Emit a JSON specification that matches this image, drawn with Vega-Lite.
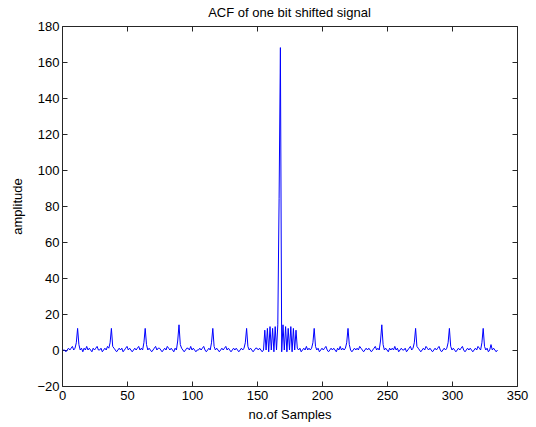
{
  "$schema": "https://vega.github.io/schema/vega-lite/v6.json",
  "width": 455,
  "height": 360,
  "autosize": {"type": "none"},
  "padding": {"left": 62, "top": 26, "right": 19, "bottom": 41},
  "background": "white",
  "config": {
    "view": {"stroke": "#262626", "strokeWidth": 1},
    "font": "Liberation Sans",
    "axis": {"grid": false, "domain": false, "tickColor": "#262626", "labelColor": "#000000", "titleColor": "#000000", "labelFont": "Liberation Sans", "titleFont": "Liberation Sans", "labelFontSize": 13, "titleFontSize": 13, "titleFontWeight": "normal", "tickSize": -5, "labelPadding": 8}
  },
  "title": {"text": "ACF of one bit shifted signal", "fontSize": 13, "fontWeight": "normal", "font": "Liberation Sans", "color": "#000000", "offset": 0, "anchor": "middle"},
  "data": {"values": [
    {"x":1,"y":0},{"x":2,"y":0},{"x":3,"y":-1},{"x":4,"y":0},{"x":5,"y":1},{"x":6,"y":0},{"x":7,"y":1},{"x":8,"y":2},{"x":9,"y":0},{"x":10,"y":1},{"x":11,"y":4},{"x":12,"y":12},{"x":13,"y":3},
    {"x":14,"y":0},{"x":15,"y":1},{"x":16,"y":-1},{"x":17,"y":1},{"x":18,"y":0},{"x":19,"y":2},{"x":20,"y":0},{"x":21,"y":1},{"x":22,"y":0},{"x":23,"y":-1},{"x":24,"y":1},{"x":25,"y":0},{"x":26,"y":1},{"x":27,"y":2},{"x":28,"y":0},{"x":29,"y":0},{"x":30,"y":1},{"x":31,"y":-1},{"x":32,"y":0},{"x":33,"y":1},{"x":34,"y":0},{"x":35,"y":2},{"x":36,"y":1},{"x":37,"y":4},{"x":38,"y":12},{"x":39,"y":2},
    {"x":40,"y":1},{"x":41,"y":0},{"x":42,"y":-1},{"x":43,"y":0},{"x":44,"y":1},{"x":45,"y":0},{"x":46,"y":1},{"x":47,"y":-1},{"x":48,"y":0},{"x":49,"y":1},{"x":50,"y":2},{"x":51,"y":0},{"x":52,"y":1},{"x":53,"y":0},{"x":54,"y":-1},{"x":55,"y":0},{"x":56,"y":1},{"x":57,"y":0},{"x":58,"y":1},{"x":59,"y":2},{"x":60,"y":0},{"x":61,"y":1},{"x":62,"y":0},{"x":63,"y":4},{"x":64,"y":12},{"x":65,"y":3},
    {"x":66,"y":0},{"x":67,"y":1},{"x":68,"y":0},{"x":69,"y":-1},{"x":70,"y":0},{"x":71,"y":1},{"x":72,"y":2},{"x":73,"y":0},{"x":74,"y":1},{"x":75,"y":1},{"x":76,"y":0},{"x":77,"y":-1},{"x":78,"y":0},{"x":79,"y":1},{"x":80,"y":0},{"x":81,"y":2},{"x":82,"y":1},{"x":83,"y":0},{"x":84,"y":1},{"x":85,"y":0},{"x":86,"y":-1},{"x":87,"y":1},{"x":88,"y":0},{"x":89,"y":5},{"x":90,"y":14},{"x":91,"y":3},
    {"x":92,"y":1},{"x":93,"y":0},{"x":94,"y":-1},{"x":95,"y":0},{"x":96,"y":1},{"x":97,"y":1},{"x":98,"y":0},{"x":99,"y":2},{"x":100,"y":0},{"x":101,"y":1},{"x":102,"y":0},{"x":103,"y":-1},{"x":104,"y":0},{"x":105,"y":0},{"x":106,"y":1},{"x":107,"y":0},{"x":108,"y":1},{"x":109,"y":2},{"x":110,"y":0},{"x":111,"y":-1},{"x":112,"y":0},{"x":113,"y":1},{"x":114,"y":0},{"x":115,"y":4},{"x":116,"y":12},{"x":117,"y":2},
    {"x":118,"y":0},{"x":119,"y":1},{"x":120,"y":0},{"x":121,"y":-1},{"x":122,"y":0},{"x":123,"y":1},{"x":124,"y":0},{"x":125,"y":1},{"x":126,"y":2},{"x":127,"y":0},{"x":128,"y":1},{"x":129,"y":0},{"x":130,"y":-1},{"x":131,"y":0},{"x":132,"y":1},{"x":133,"y":0},{"x":134,"y":1},{"x":135,"y":0},{"x":136,"y":-1},{"x":137,"y":0},{"x":138,"y":1},{"x":139,"y":0},{"x":140,"y":1},{"x":141,"y":4},{"x":142,"y":12},{"x":143,"y":2},
    {"x":144,"y":0},{"x":145,"y":1},{"x":146,"y":0},{"x":147,"y":-1},{"x":148,"y":0},{"x":149,"y":1},{"x":150,"y":1},{"x":151,"y":0},{"x":152,"y":1},{"x":153,"y":0},{"x":154,"y":-1},{"x":155,"y":0},
    {"x":156,"y":11},{"x":157,"y":0},{"x":158,"y":12},{"x":159,"y":-1},{"x":160,"y":13},{"x":161,"y":0},{"x":162,"y":12},{"x":163,"y":-1},{"x":164,"y":13},{"x":165,"y":0},{"x":166,"y":14},{"x":167,"y":84},{"x":168,"y":168},{"x":169,"y":-1},{"x":170,"y":14},{"x":171,"y":0},{"x":172,"y":13},{"x":173,"y":-1},{"x":174,"y":12},{"x":175,"y":0},{"x":176,"y":13},{"x":177,"y":-1},{"x":178,"y":12},{"x":179,"y":0},{"x":180,"y":11},{"x":181,"y":1},
    {"x":182,"y":0},{"x":183,"y":1},{"x":184,"y":-1},{"x":185,"y":0},{"x":186,"y":1},{"x":187,"y":0},{"x":188,"y":2},{"x":189,"y":0},{"x":190,"y":1},{"x":191,"y":0},{"x":192,"y":1},{"x":193,"y":4},{"x":194,"y":12},{"x":195,"y":2},
    {"x":196,"y":0},{"x":197,"y":1},{"x":198,"y":-1},{"x":199,"y":0},{"x":200,"y":1},{"x":201,"y":0},{"x":202,"y":1},{"x":203,"y":2},{"x":204,"y":0},{"x":205,"y":-1},{"x":206,"y":0},{"x":207,"y":1},{"x":208,"y":0},{"x":209,"y":1},{"x":210,"y":0},{"x":211,"y":-1},{"x":212,"y":1},{"x":213,"y":0},{"x":214,"y":2},{"x":215,"y":0},{"x":216,"y":1},{"x":217,"y":0},{"x":218,"y":1},{"x":219,"y":4},{"x":220,"y":12},{"x":221,"y":3},
    {"x":222,"y":0},{"x":223,"y":-1},{"x":224,"y":0},{"x":225,"y":1},{"x":226,"y":0},{"x":227,"y":1},{"x":228,"y":0},{"x":229,"y":2},{"x":230,"y":1},{"x":231,"y":0},{"x":232,"y":-1},{"x":233,"y":0},{"x":234,"y":1},{"x":235,"y":0},{"x":236,"y":1},{"x":237,"y":0},{"x":238,"y":-1},{"x":239,"y":0},{"x":240,"y":1},{"x":241,"y":2},{"x":242,"y":0},{"x":243,"y":1},{"x":244,"y":0},{"x":245,"y":5},{"x":246,"y":14},{"x":247,"y":3},
    {"x":248,"y":0},{"x":249,"y":1},{"x":250,"y":0},{"x":251,"y":-1},{"x":252,"y":1},{"x":253,"y":0},{"x":254,"y":1},{"x":255,"y":0},{"x":256,"y":2},{"x":257,"y":0},{"x":258,"y":1},{"x":259,"y":-1},{"x":260,"y":0},{"x":261,"y":1},{"x":262,"y":0},{"x":263,"y":0},{"x":264,"y":1},{"x":265,"y":-1},{"x":266,"y":0},{"x":267,"y":1},{"x":268,"y":2},{"x":269,"y":0},{"x":270,"y":1},{"x":271,"y":4},{"x":272,"y":12},{"x":273,"y":2},
    {"x":274,"y":1},{"x":275,"y":0},{"x":276,"y":-1},{"x":277,"y":0},{"x":278,"y":1},{"x":279,"y":0},{"x":280,"y":2},{"x":281,"y":1},{"x":282,"y":0},{"x":283,"y":1},{"x":284,"y":0},{"x":285,"y":-1},{"x":286,"y":0},{"x":287,"y":1},{"x":288,"y":0},{"x":289,"y":1},{"x":290,"y":2},{"x":291,"y":0},{"x":292,"y":-1},{"x":293,"y":0},{"x":294,"y":1},{"x":295,"y":0},{"x":296,"y":1},{"x":297,"y":4},{"x":298,"y":12},{"x":299,"y":2},
    {"x":300,"y":0},{"x":301,"y":1},{"x":302,"y":0},{"x":303,"y":-1},{"x":304,"y":0},{"x":305,"y":1},{"x":306,"y":0},{"x":307,"y":1},{"x":308,"y":2},{"x":309,"y":0},{"x":310,"y":-1},{"x":311,"y":0},{"x":312,"y":1},{"x":313,"y":0},{"x":314,"y":1},{"x":315,"y":0},{"x":316,"y":-1},{"x":317,"y":0},{"x":318,"y":1},{"x":319,"y":0},{"x":320,"y":2},{"x":321,"y":1},{"x":322,"y":0},{"x":323,"y":4},{"x":324,"y":12},{"x":325,"y":2},
    {"x":326,"y":0},{"x":327,"y":1},{"x":328,"y":-1},{"x":329,"y":0},{"x":330,"y":3},{"x":331,"y":0},{"x":332,"y":1},{"x":333,"y":0},{"x":334,"y":-1},{"x":335,"y":0}
  ]},
  "layer": [
    {
      "mark": {"type": "line", "color": "#0000ff", "strokeWidth": 1, "interpolate": "linear"},
      "encoding": {
        "x": {"field": "x", "type": "quantitative", "scale": {"domain": [0, 350], "nice": false, "zero": false}, "axis": {"orient": "bottom", "values": [0,50,100,150,200,250,300,350], "title": "no.of Samples", "titlePadding": 6, "labelFlush": false}},
        "y": {"field": "y", "type": "quantitative", "scale": {"domain": [-20, 180], "nice": false, "zero": false}, "axis": {"orient": "left", "values": [-20,0,20,40,60,80,100,120,140,160,180], "title": "amplitude", "titlePadding": 12, "labelFlush": false}}
      }
    },
    {
      "mark": {"type": "line", "opacity": 0},
      "encoding": {
        "x": {"field": "x", "type": "quantitative", "scale": {"domain": [0, 350], "nice": false, "zero": false}, "axis": {"orient": "top", "values": [0,50,100,150,200,250,300,350], "labels": false, "title": null}},
        "y": {"field": "y", "type": "quantitative", "scale": {"domain": [-20, 180], "nice": false, "zero": false}, "axis": {"orient": "right", "values": [-20,0,20,40,60,80,100,120,140,160,180], "labels": false, "title": null}}
      }
    }
  ],
  "resolve": {"axis": {"x": "independent", "y": "independent"}}
}
